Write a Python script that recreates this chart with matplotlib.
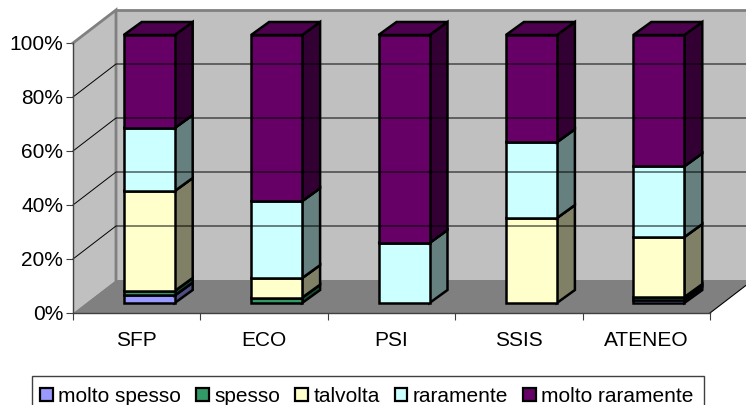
import matplotlib
matplotlib.use('Agg')
import matplotlib.pyplot as plt
from matplotlib.patches import Polygon, Patch, Rectangle

plt.rcParams['font.family'] = ['Liberation Sans', 'DejaVu Sans']

categories = ['SFP', 'ECO', 'PSI', 'SSIS', 'ATENEO']
series_names = ['molto spesso', 'spesso', 'talvolta', 'raramente', 'molto raramente']
molto_spesso = [2.8, 0, 0, 0, 1.2]
spesso = [1.7, 2.0, 0, 0, 1.0]
talvolta = [37.3, 7.3, 0, 31.7, 22.4]
raramente = [23.5, 28.7, 22.4, 28.3, 26.4]
molto_raramente = [34.7, 62.0, 77.6, 40.0, 49.0]
series = [molto_spesso, spesso, talvolta, raramente, molto_raramente]
colors = ['#9999FF', '#339966', '#FFFFCC', '#CCFFFF', '#660066']
y_ticks = [0, 20, 40, 60, 80, 100]

# pixel layout converted to data units
W, H = 746, 405
X0, X1, Y0, Y1 = 73, 710, 313, 43
px_x = 5 / (X1 - X0)
px_y = 100 / (Y0 - Y1)
DX = 43 * px_x
DY = 33 * px_y


def shade(color, f):
    r, g, b = matplotlib.colors.to_rgb(color)
    return (r * f, g * f, b * f)


fig = plt.figure(figsize=(W / 100, H / 100), dpi=100)
ax = fig.add_axes([X0 / W, (H - Y0) / H, (X1 - X0) / W, (Y0 - Y1) / H])
ax.set_xlim(0, 5)
ax.set_ylim(0, 100)
ax.patch.set_visible(False)

# walls and floor
ax.add_patch(Polygon([(0, 0), (DX, DY), (DX, 100 + DY), (0, 100)], fc='#C0C0C0', ec='none', clip_on=False))
ax.add_patch(Polygon([(DX, DY), (5 + DX, DY), (5 + DX, 100 + DY), (DX, 100 + DY)], fc='#C0C0C0', ec='none', clip_on=False))
ax.add_patch(Polygon([(0, 0), (5, 0), (5 + DX, DY), (DX, DY)], fc='#808080', ec='none', clip_on=False))
ax.plot([0, DX, DX], [100, 100 + DY, DY], color='#808080', lw=2, clip_on=False, solid_joinstyle='miter')
ax.plot([DX, 5 + DX], [100 + DY, 100 + DY], color='#808080', lw=2, clip_on=False)

# gridlines
for t in y_ticks[1:-1]:
    ax.plot([0, DX, 5 + DX], [t, t + DY, t + DY], color='black', lw=0.7, clip_on=False)
ax.plot([5, 5 + DX], [0, DY], color='black', lw=0.8, clip_on=False)

# bars
bar_w = 51 * px_x
front_dx = 12.5 * px_x
front_dy = 10 * px_y
depth_x = 18 * px_x
depth_y = 13 * px_y
bar_scale = 268 / 270
for i in range(len(categories)):
    left = i + 0.5 - bar_w / 2 + front_dx
    right = left + bar_w
    bottom = front_dy
    for vals, color in zip(series, colors):
        v = vals[i] * bar_scale
        if v == 0:
            continue
        top = bottom + v
        kw = dict(ec='black', lw=1.8, joinstyle='miter', clip_on=False)
        ax.add_patch(Polygon([(right, bottom), (right + depth_x, bottom + depth_y),
                              (right + depth_x, top + depth_y), (right, top)], fc=shade(color, 0.5), **kw))
        ax.add_patch(Polygon([(left, top), (right, top), (right + depth_x, top + depth_y),
                              (left + depth_x, top + depth_y)], fc=shade(color, 0.75), **kw))
        ax.add_patch(Rectangle((left, bottom), bar_w, v, fc=color, **kw))
        bottom = top

# axes
for s in ['top', 'right']:
    ax.spines[s].set_visible(False)
for s in ['left', 'bottom']:
    ax.spines[s].set_color('#404040')
    ax.spines[s].set_linewidth(1.0)
ax.set_yticks(y_ticks)
ax.set_yticklabels([f'{t}%' for t in y_ticks], fontsize=15)
ax.set_xticks(range(6))
ax.set_xticklabels([])
ax.set_xticks([i + 0.5 for i in range(5)], categories, minor=True, fontsize=15)
ax.tick_params(axis='x', which='minor', length=0, pad=13)
ax.tick_params(axis='x', which='major', length=5, width=0.8, color='#404040')
ax.tick_params(axis='y', length=5, width=0.8, color='#404040', pad=2)

# legend box runs off the bottom of the picture
fig.add_artist(Rectangle((32 / W, -10 / H), (704 - 32) / W, (H - 376 + 10) / H, transform=fig.transFigure,
                         fc='white', ec='#404040', lw=1.0))
handles = [Patch(fc=c, ec='black', lw=1.6) for c in colors]
leg = fig.legend(handles, series_names, loc='lower left', bbox_to_anchor=(40 / W, -1 / H),
                 ncol=5, fontsize=15, frameon=False, borderaxespad=0, borderpad=0,
                 handlelength=0.62, handleheight=0.62, handletextpad=0.25, columnspacing=0.72, labelspacing=0)

fig.savefig('out.png', dpi=100)
